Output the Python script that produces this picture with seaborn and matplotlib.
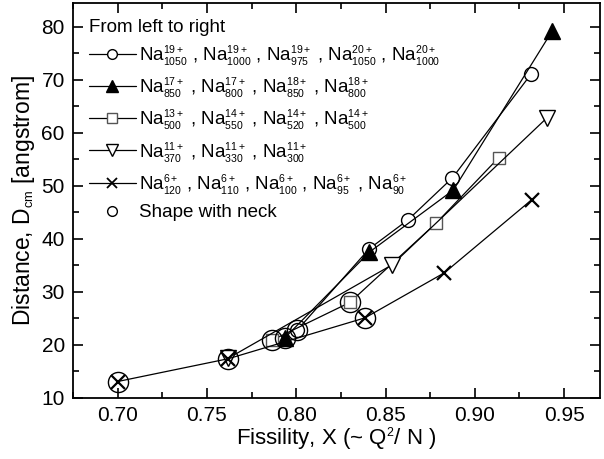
import matplotlib
matplotlib.use("Agg")
import matplotlib.pyplot as plt
import matplotlib._mathtext as mtext
import seaborn as sns
import pandas as pd
from matplotlib.lines import Line2D
from matplotlib.ticker import MultipleLocator

sns.set_theme(style="ticks")
plt.rcParams["font.family"] = ["Liberation Sans", "DejaVu Sans"]
plt.rcParams["mathtext.fontset"] = "custom"
plt.rcParams["mathtext.rm"] = "Liberation Sans"
plt.rcParams["mathtext.it"] = "Liberation Sans"
plt.rcParams["text.color"] = "black"
plt.rcParams["axes.labelcolor"] = "black"
# Origin-style small super/subscripts
mtext.SHRINK_FACTOR = 0.56

# data
circ_x = [0.8006, 0.8408, 0.8627, 0.8875, 0.9314]
circ_y = [22.8, 38.1, 43.6, 51.5, 71.0]
tri_x = [0.7935, 0.8410, 0.8880, 0.9432]
tri_y = [21.3, 37.5, 49.2, 79.1]
sq_x = [0.7865, 0.8300, 0.8785, 0.9134]
sq_y = [20.9, 28.0, 43.0, 55.3]
tdn_x = [0.7620, 0.8537, 0.9404]
tdn_y = [17.5, 35.1, 62.8]
crs_x = [0.7000, 0.7620, 0.8385, 0.8830, 0.9320]
crs_y = [13.1, 17.4, 25.1, 33.6, 47.4]
neck_x = [0.7000, 0.7620, 0.7865, 0.7935, 0.8006, 0.8300, 0.8385]
neck_y = [13.1, 17.4, 20.9, 21.3, 22.8, 28.0, 25.1]

labels = [
    r"$\mathrm{Na}^{19+}_{1050}$ , $\mathrm{Na}^{19+}_{1000}$ , $\mathrm{Na}^{19+}_{975}$ , $\mathrm{Na}^{20+}_{1050}$ , $\mathrm{Na}^{20+}_{1000}$",
    r"$\mathrm{Na}^{17+}_{850}$ , $\mathrm{Na}^{17+}_{800}$ , $\mathrm{Na}^{18+}_{850}$ , $\mathrm{Na}^{18+}_{800}$",
    r"$\mathrm{Na}^{13+}_{500}$ , $\mathrm{Na}^{14+}_{550}$ , $\mathrm{Na}^{14+}_{520}$ , $\mathrm{Na}^{14+}_{500}$",
    r"$\mathrm{Na}^{11+}_{370}$ , $\mathrm{Na}^{11+}_{330}$ , $\mathrm{Na}^{11+}_{300}$",
    r"$\mathrm{Na}^{6+}_{120}$ , $\mathrm{Na}^{6+}_{110}$ , $\mathrm{Na}^{6+}_{100}$ , $\mathrm{Na}^{6+}_{95}$ , $\mathrm{Na}^{6+}_{90}$",
    "Shape with neck",
]

fig = plt.figure(figsize=(6.04, 4.59), dpi=100)
ax = fig.add_axes([0.121, 0.133, 0.872, 0.861])

series = [
    (circ_x, circ_y, "o", "white", "black", 10),
    (tri_x, tri_y, "^", "black", "black", 11),
    (sq_x, sq_y, "s", "white", "#555555", 9),
    (tdn_x, tdn_y, "v", "white", "black", 11),
    (crs_x, crs_y, "x", "black", "black", 9.5),
]
for xs, ys, m, fc, ec, ms in series:
    df = pd.DataFrame({"x": xs, "y": ys})
    sns.lineplot(data=df, x="x", y="y", sort=False, ax=ax, color="black",
                 linewidth=0.9, marker=m, markersize=ms, markerfacecolor=fc,
                 markeredgecolor=ec, markeredgewidth=1.6 if m == "x" else 1.0,
                 zorder=3)

neck = pd.DataFrame({"x": neck_x, "y": neck_y})
ax.plot(neck["x"], neck["y"], linestyle="none", marker="o", markersize=14.5,
        markerfacecolor="none", markeredgecolor="black", markeredgewidth=1.0,
        zorder=4)

ax.set_xlim(0.675, 0.97)
ax.set_ylim(10, 84.5)
ax.xaxis.set_major_locator(MultipleLocator(0.05))
ax.xaxis.set_minor_locator(MultipleLocator(0.025))
ax.yaxis.set_major_locator(MultipleLocator(10))
ax.yaxis.set_minor_locator(MultipleLocator(5))
ax.set_xticks([0.70, 0.75, 0.80, 0.85, 0.90, 0.95])
ax.set_xticklabels(["0.70", "0.75", "0.80", "0.85", "0.90", "0.95"])
ax.tick_params(which="both", direction="in", top=True, right=True,
               labeltop=False, labelright=False, width=1.2, labelsize=15,
               colors="black")
ax.tick_params(which="major", length=7, pad=6)
ax.tick_params(which="minor", length=4)
for s in ax.spines.values():
    s.set_linewidth(1.3)
    s.set_color("black")

ax.set_xlabel(r"Fissility, X (~ Q$^2$/ N )", fontsize=16, labelpad=0)
ax.set_ylabel(r"Distance, D$_{\mathrm{cm}}$ [angstrom]", fontsize=16.5, labelpad=3)

handles = [
    Line2D([], [], color="black", lw=0.9, marker="o", ms=7, mfc="white", mec="black"),
    Line2D([], [], color="black", lw=0.9, marker="^", ms=8, mfc="black", mec="black"),
    Line2D([], [], color="black", lw=0.9, marker="s", ms=6.5, mfc="white", mec="#555555"),
    Line2D([], [], color="black", lw=0.9, marker="v", ms=8, mfc="white", mec="black"),
    Line2D([], [], color="black", lw=0.9, marker="x", ms=7.5, mec="black", mew=1.3),
    Line2D([], [], linestyle="none", marker="o", ms=7, mfc="white", mec="black"),
]
leg = ax.legend(handles, labels, loc="upper left", frameon=False,
                title="From left to right", title_fontsize=13.5, fontsize=13.5,
                handlelength=2.5, handletextpad=0.15, labelspacing=0.4,
                borderaxespad=0.4, borderpad=0.45, alignment="left")

fig.savefig("out.png", dpi=100)
